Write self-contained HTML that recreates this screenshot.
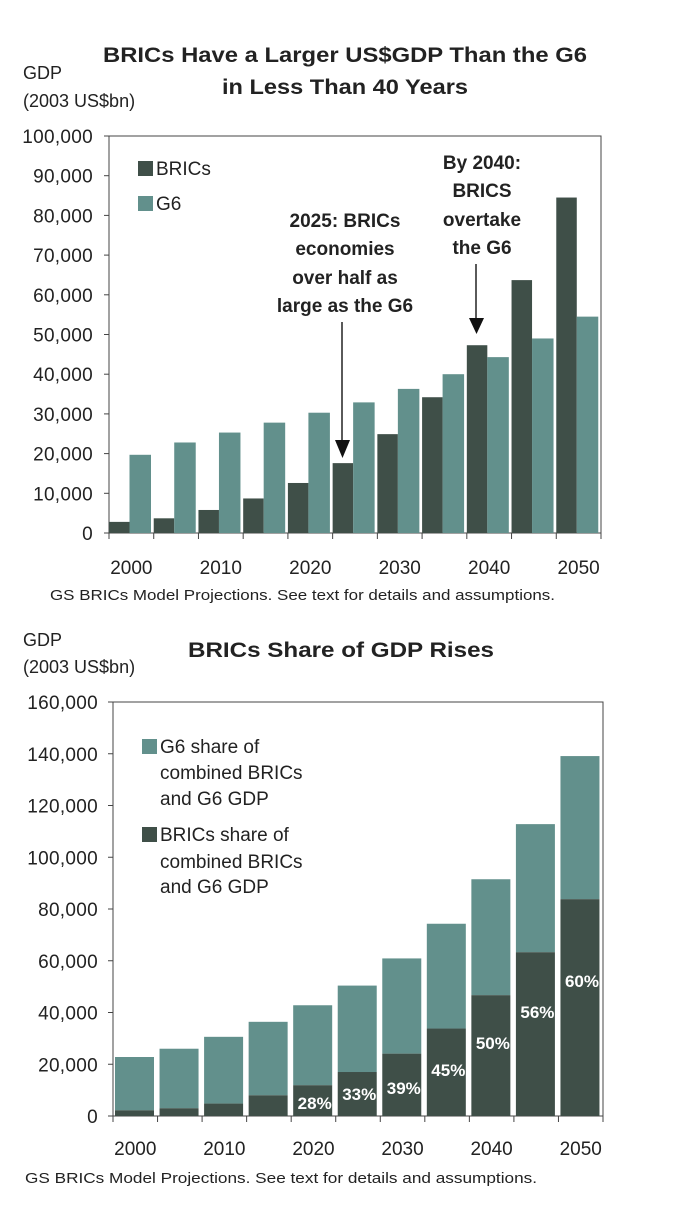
<!DOCTYPE html>
<html><head><meta charset="utf-8">
<style>
html,body{margin:0;padding:0;background:#fff;}
svg{display:block;font-family:"Liberation Sans",Arial,sans-serif;}
</style></head>
<body>
<svg id="root" width="678" height="1206" viewBox="0 0 678 1206" xmlns="http://www.w3.org/2000/svg">
<g>
<text x="345" y="62" text-anchor="middle" font-size="21" font-weight="bold" fill="#222" textLength="484" lengthAdjust="spacingAndGlyphs">BRICs Have a Larger US$GDP Than the G6</text>
<text x="345" y="94" text-anchor="middle" font-size="21" font-weight="bold" fill="#222" textLength="246" lengthAdjust="spacingAndGlyphs">in Less Than 40 Years</text>
<text x="23" y="79" font-size="18" fill="#222">GDP</text>
<text x="23" y="107" font-size="18" fill="#222">(2003 US$bn)</text>
</g>
<g id="top"></g>
<text x="50" y="600" font-size="15" fill="#222" textLength="505" lengthAdjust="spacingAndGlyphs">GS BRICs Model Projections. See text for details and assumptions.</text>

<g>
<text x="341" y="657" text-anchor="middle" font-size="21" font-weight="bold" fill="#222" textLength="306" lengthAdjust="spacingAndGlyphs">BRICs Share of GDP Rises</text>
<text x="23" y="646" font-size="18" fill="#222">GDP</text>
<text x="23" y="673" font-size="18" fill="#222">(2003 US$bn)</text>
</g>
<g id="bot"></g>
<text x="25" y="1183" font-size="15" fill="#222" textLength="512" lengthAdjust="spacingAndGlyphs">GS BRICs Model Projections. See text for details and assumptions.</text>
</svg>
<script>
// ---- Top chart data ----
const years = [2000,2005,2010,2015,2020,2025,2030,2035,2040,2045,2050];
const xLabels = ["2000","2010","2020","2030","2040","2050"];
const bricsGdp = [2.8,3.7,5.8,8.7,12.6,17.6,24.9,34.2,47.3,63.7,84.5];
const g6Gdp = [19.7,22.8,25.3,27.8,30.3,32.9,36.3,40.0,44.3,49.0,54.5];
const topTicks = [0,10,20,30,40,50,60,70,80,90,100];
// ---- Bottom chart data ----
const totalGdp = [22.8,26.0,30.6,36.4,42.8,50.4,60.9,74.3,91.5,112.8,139.1];
const bricsShareGdp = [2.2,3.0,4.8,8.0,11.9,17.0,24.1,33.8,46.7,63.3,83.8];
const shareLabels = ["","","","","28%","33%","39%","45%","50%","56%","60%"];
const shareLabelAt = [0,0,0,0,5.0,8.5,10.8,17.8,28.2,40.2,52.2];
const botTicks = [0,20,40,60,80,100,120,140,160];

const NS="http://www.w3.org/2000/svg";
const DARK="#3f4f48", TEAL="#62908c";
function mk(parent,tag,attrs,text){const e=document.createElementNS(NS,tag);for(const k in attrs)e.setAttribute(k,attrs[k]);if(text!==undefined)e.textContent=text;parent.appendChild(e);return e;}
function fmt(v){return (v*1000).toLocaleString("en-US");}

// ===== TOP =====
(function(){
const g=document.getElementById("top");
const x0=109,x1=601,yTop=136,yBot=533,maxV=100;
const n=years.length, gw=(x1-x0)/n;
const y=v=>yBot-(v/maxV)*(yBot-yTop);
const gx=i=>x0+i*gw;
const fr=mk(g,"rect",{x:x0,y:yTop,width:x1-x0,height:yBot-yTop,fill:"none",stroke:"#444","stroke-width":1});


topTicks.forEach(t=>{
 const ln=mk(g,"line",{x1:x0-5,x2:x0,y1:y(t),y2:y(t),stroke:"#444"});
 
 
 const tx=mk(g,"text",{x:93,y:y(t)+7,"text-anchor":"end","font-size":19,fill:"#222","letter-spacing":"0.3"},fmt(t));
 
 
});
for(let i=0;i<=n;i++){
 const ln=mk(g,"line",{x1:gx(i),x2:gx(i),y1:yBot,y2:yBot+6,stroke:"#444"});
 
 
}
years.forEach((yr,i)=>{
 const bw=20.5;
 const b=mk(g,"rect",{x:gx(i),y:y(bricsGdp[i]),width:bw,height:yBot-y(bricsGdp[i]),fill:DARK});
 
 
 const c=mk(g,"rect",{x:gx(i)+bw,y:y(g6Gdp[i]),width:21.5,height:yBot-y(g6Gdp[i]),fill:TEAL});
 
 
});
xLabels.forEach((l,k)=>{
 const t=mk(g,"text",{x:gx(k*2)+gw/2,y:574,"text-anchor":"middle","font-size":19,fill:"#222"},l);
 
 
});
const l1=mk(g,"rect",{x:138,y:161,width:15,height:15,fill:DARK});


const lt1=mk(g,"text",{x:156,y:175,"font-size":19,fill:"#222"},"BRICs");


const l2=mk(g,"rect",{x:138,y:196,width:15,height:15,fill:TEAL});


const lt2=mk(g,"text",{x:156,y:210,"font-size":19,fill:"#222"},"G6");


[["2025: BRICs",227],["economies",255],["over half as",284],["large as the G6",312]].forEach(a=>{
 const t=mk(g,"text",{x:345,y:a[1],"text-anchor":"middle","font-size":19,"font-weight":"bold",fill:"#222"},a[0]);
 
 
});
[["By 2040:",169],["BRICS",197],["overtake",226],["the G6",254]].forEach(a=>{
 const t=mk(g,"text",{x:482,y:a[1],"text-anchor":"middle","font-size":19,"font-weight":"bold",fill:"#222"},a[0]);
 
 
});
const a1=mk(g,"line",{x1:342,x2:342,y1:322,y2:442,stroke:"#222","stroke-width":1.5});


const h1=mk(g,"polygon",{points:"335,440 350,440 342.5,458",fill:"#111"});


const a2=mk(g,"line",{x1:476,x2:476,y1:264,y2:320,stroke:"#222","stroke-width":1.5});


const h2=mk(g,"polygon",{points:"469,318 484,318 476.5,334",fill:"#111"});


})();

// ===== BOTTOM =====
(function(){
const g=document.getElementById("bot");
const x0=113,x1=603,yTop=702,yBot=1116,maxV=160;
const n=years.length, gw=(x1-x0)/n;
const y=v=>yBot-(v/maxV)*(yBot-yTop);
const gx=i=>x0+i*gw;
const fr=mk(g,"rect",{x:x0,y:yTop,width:x1-x0,height:yBot-yTop,fill:"none",stroke:"#444","stroke-width":1});


botTicks.forEach(t=>{
 const ln=mk(g,"line",{x1:x0-5,x2:x0,y1:y(t),y2:y(t),stroke:"#444"});
 
 
 const tx=mk(g,"text",{x:98,y:y(t)+7,"text-anchor":"end","font-size":19,fill:"#222","letter-spacing":"0.3"},fmt(t));
 
 
});
for(let i=0;i<=n;i++){
 const ln=mk(g,"line",{x1:gx(i),x2:gx(i),y1:yBot,y2:yBot+6,stroke:"#444"});
 
 
}
years.forEach((yr,i)=>{
 const bx=gx(i)+2,bw=39;
 const t=mk(g,"rect",{x:bx,y:y(totalGdp[i]),width:bw,height:y(bricsShareGdp[i])-y(totalGdp[i]),fill:TEAL});
 
 
 const b=mk(g,"rect",{x:bx,y:y(bricsShareGdp[i]),width:bw,height:yBot-y(bricsShareGdp[i]),fill:DARK});
 
 
 if(shareLabels[i]){
  const l=mk(g,"text",{x:bx+bw/2+2,y:y(shareLabelAt[i])+6,"text-anchor":"middle","font-size":17,"font-weight":"bold",fill:"#fff"},shareLabels[i]);
  
  
 }
});
xLabels.forEach((l,k)=>{
 const t=mk(g,"text",{x:gx(k*2)+gw/2,y:1155,"text-anchor":"middle","font-size":19,fill:"#222"},l);
 
 
});
const s1=mk(g,"rect",{x:142,y:739,width:15,height:15,fill:TEAL});


[["G6 share of",753],["combined BRICs",779],["and G6 GDP",805]].forEach(a=>{
 const t=mk(g,"text",{x:160,y:a[1],"font-size":19,fill:"#222"},a[0]);
 
 
});
const s2=mk(g,"rect",{x:142,y:827,width:15,height:15,fill:DARK});


[["BRICs share of",841],["combined BRICs",868],["and G6 GDP",893]].forEach(a=>{
 const t=mk(g,"text",{x:160,y:a[1],"font-size":19,fill:"#222"},a[0]);
 
 
});
})();
</script>
</body></html>
